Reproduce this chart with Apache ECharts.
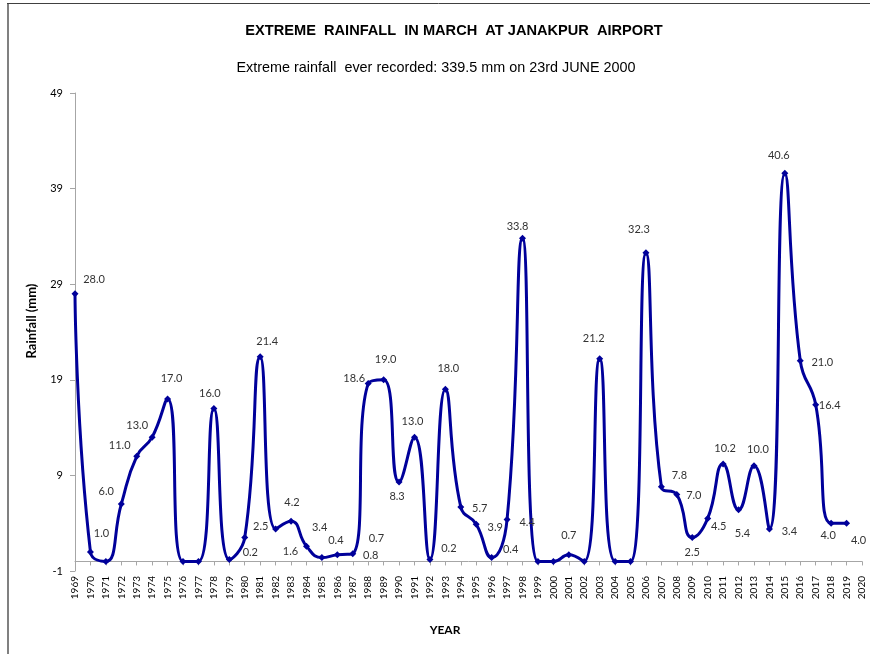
<!DOCTYPE html>
<html>
<head>
<meta charset="utf-8">
<script src="https://cdn.jsdelivr.net/npm/echarts@6/dist/echarts.min.js"></script>
<style>
html,body{margin:0;padding:0;background:#fff;}
#chart{width:870px;height:654px;}
</style>
</head>
<body>
<div id="chart"></div>
<script>
// Categories (x axis tick labels)
const years = [];
for (let y = 1969; y <= 2020; y++) years.push(String(y));

// Extreme March rainfall (mm), 1969-2019
const rainfall = [
  28.0, 1.0, 0, 6.0, 11.0, 13.0, 17.0, 0, 0, 16.0,
  0.2, 2.5, 21.4, 3.4, 4.2, 1.6, 0.4, 0.7, 0.8, 18.6,
  19.0, 8.3, 13.0, 0.2, 18.0, 5.7, 3.9, 0.4, 4.4, 33.8,
  0, 0, 0.7, 0, 21.2, 0, 0, 32.3, 7.8, 7.0,
  2.5, 4.5, 10.2, 5.4, 10.0, 3.4, 40.6, 21.0, 16.4, 4.0,
  4.0
];

// Y axis ticks
const yMin = -1, yMax = 49, yStep = 10;

// Data label placement (style only): pixel offsets of each label from its point
const labelOffsets = [
  [19,-14],[11,-18],[0,0],[-15,-13],[-17,-11],[-15,-12],[4,-20],[0,0],[0,0],[-4,-15],
  [21,-7],[16,-11],[7,-15],[44,-1],[1,-19],[-16,5],[14,-17],[39,-16],[18,2],[-14,-5],
  [2,-20],[-2,14],[-2,-16],[19,-11],[3,-21],[19,2],[19,3],[19,-8],[20,3],[-5,-12],
  [0,0],[0,0],[0,-19],[0,0],[-6,-20],[0,0],[0,0],[-7,-23],[18,-11],[17,1],
  [0,15],[11,8],[2,-15],[4,24],[4,-16],[20,3],[-6,-18],[22,2],[14,1],[-3,12],
  [12,17]
];

const seriesData = rainfall.map((v, i) => ({
  value: v,
  label: {
    show: v > 0,
    offset: labelOffsets[i]
  }
}));

const chart = echarts.init(document.getElementById('chart'), null, {renderer: 'canvas'});
const LINE = '#00009A';
chart.setOption({
  animation: false,
  backgroundColor: '#ffffff',
  title: [
    {
      text: 'EXTREME  RAINFALL  IN MARCH  AT JANAKPUR  AIRPORT',
      left: 449, top: 18, textAlign: 'center',
      textStyle: {fontFamily: 'Liberation Sans', fontWeight: 'bold', fontSize: 14.6, color: '#000'}
    },
    {
      text: 'Extreme rainfall  ever recorded: 339.5 mm on 23rd JUNE 2000',
      left: 431, top: 56, textAlign: 'center',
      textStyle: {fontFamily: 'Liberation Sans', fontWeight: 'normal', fontSize: 14.4, color: '#000'}
    }
  ],
  graphic: [
    {type: 'line', shape: {x1: 8, y1: 3, x2: 8, y2: 654}, style: {stroke: '#808080', lineWidth: 2}},
    {type: 'line', shape: {x1: 7, y1: 3.5, x2: 870, y2: 3.5}, style: {stroke: '#404040', lineWidth: 1}},
    {type: 'text', x: 445, y: 630, style: {text: 'YEAR', fontFamily: 'Lato', fontWeight: 'bold', fontSize: 12, fill: '#000', align: 'center', verticalAlign: 'middle'}},
    {type: 'text', x: 32, y: 321, rotation: Math.PI / 2, style: {text: 'Rainfall (mm)', fontFamily: 'Lato', fontWeight: 'bold', fontSize: 13, fill: '#000', align: 'center', verticalAlign: 'middle'}}
  ],
  grid: {left: 75, right: 8, top: 93, bottom: 83, containLabel: false},
  xAxis: {
    type: 'category',
    data: years,
    boundaryGap: false,
    axisLine: {lineStyle: {color: '#a6a6a6', width: 1}},
    axisTick: {show: true, length: 4, lineStyle: {color: '#a6a6a6'}},
    axisLabel: {rotate: 90, interval: 0, fontSize: 10, fontFamily: 'Lato', color: '#000', margin: 5},
    splitLine: {show: false}
  },
  yAxis: {
    type: 'value',
    min: yMin, max: yMax, interval: yStep,
    axisLine: {show: true, lineStyle: {color: '#a6a6a6', width: 1}},
    axisTick: {show: true, length: 5, lineStyle: {color: '#a6a6a6'}},
    axisLabel: {fontSize: 11, fontFamily: 'Lato', color: '#000', margin: 12},
    splitLine: {show: false}
  },
  series: [{
    type: 'line',
    data: seriesData,
    smooth: 0.5,
    symbol: 'diamond',
    symbolSize: 7,
    lineStyle: {color: LINE, width: 3},
    itemStyle: {color: LINE},
    label: {
      show: true,
      position: 'inside',
      formatter: p => p.value.toFixed(1),
      fontFamily: 'Lato',
      fontSize: 11,
      color: '#333',
      align: 'center',
      verticalAlign: 'middle'
    }
  }]
});
</script>
</body>
</html>
